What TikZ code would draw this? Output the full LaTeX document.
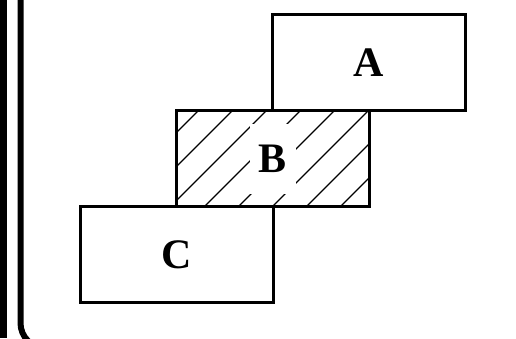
\documentclass[tikz,border=0pt]{standalone}
\usepackage{fontspec}
\setmainfont{Liberation Serif}
\tikzset{
  blockbox/.style={draw=black, line width=3pt, outer sep=0pt, inner sep=0pt,
    minimum width=193pt, minimum height=96pt, font=\fontsize{42}{50}\selectfont\bfseries},
  holelabel/.style={fill=white, inner sep=0pt, minimum width=46pt, minimum height=70pt,
    font=\fontsize{42}{50}\selectfont\bfseries},
  hatchline/.style={line width=1.2pt},
  framebar/.style={line width=6pt, rounded corners=25pt},
}

\begin{document}
\begin{tikzpicture}[x=1pt, y=-1pt]
  \clip (0,0) rectangle (516,338);
  % left frame
  \fill (0,0) rectangle (7,338);
  \draw[framebar] (20.5,-10) -- (20.5,348) -- (90,348);
  % the three blocks
  \node[blockbox] (A) at (368.5,62.5) {A};
  \node[blockbox] (C) at (176.5,254.5) {};
  \node[blockbox] (B) at (272.5,158.5) {};
  \begin{scope}
    \clip (B.south west) rectangle (B.north east);
    \foreach \c in {309,343,...,547}
      \draw[hatchline] (\c-230,230) -- (\c-90,90);
  \end{scope}
  \node[blockbox] at (B) {};
  \node[holelabel] (Blabel) at (B) {B};
  \node[font=\fontsize{42}{50}\selectfont\bfseries] (Clabel) at (C) {C};
\end{tikzpicture}
\end{document}
